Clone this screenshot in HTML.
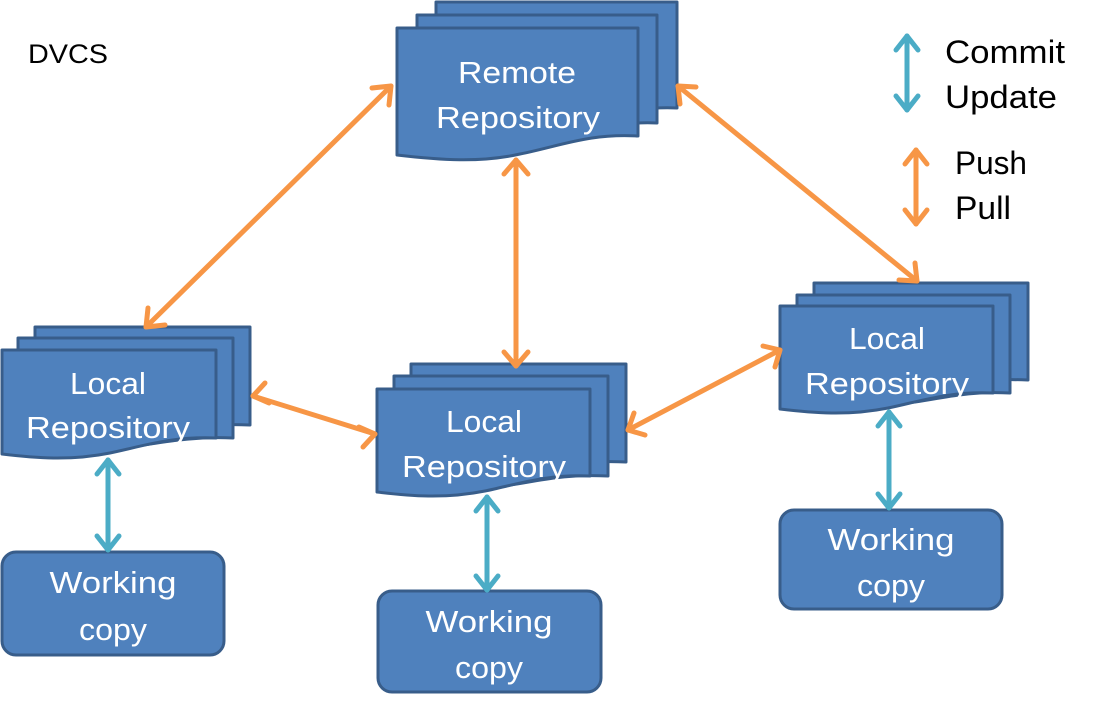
<!DOCTYPE html>
<html><head><meta charset="utf-8"><style>
html,body{margin:0;padding:0;background:#fff;}
svg{display:block;font-family:"Liberation Sans",sans-serif;}
.d{fill:#4F81BD;stroke:#385D8A;stroke-width:3;stroke-linejoin:round;}
.t{fill:#fff;font-size:31px;text-anchor:middle;}
.k{fill:#000;font-size:32px;}
.o{stroke:#F79646;stroke-width:5;fill:none;stroke-linecap:round;stroke-linejoin:round;}
.c{stroke:#4BACC6;stroke-width:5;fill:none;stroke-linecap:round;stroke-linejoin:round;}
</style></head><body>
<svg width="1118" height="710" viewBox="0 0 1118 710">
<text x="28" y="63" style="font-size:27px;fill:#000" textLength="80" lengthAdjust="spacingAndGlyphs">DVCS</text>

<!-- Remote -->
<g transform="translate(436,2)"><path class="d" d="M0,0H241V106C200,104 170,115 140,120 100,127 50,124 0,118Z"/></g>
<g transform="translate(417,15)"><path class="d" d="M0,0H240V108C200,106 170,117 140,122 100,129 50,126 0,120Z"/></g>
<path class="d" d="M397,28H638V136C590,133 560,146 520,154 480,163 440,160 397,155Z"/>
<text class="t" x="517" y="83" textLength="118" lengthAdjust="spacingAndGlyphs">Remote</text>
<text class="t" x="518" y="128" textLength="164" lengthAdjust="spacingAndGlyphs">Repository</text>

<!-- Local left -->
<path class="d" d="M35,327H250V425C200,423 180,430 150,434 100,440 70,437 35,432Z"/>
<path class="d" d="M18,338H233V438C190,436 160,443 130,447 90,453 50,450 18,445Z"/>
<path class="d" d="M2,350H216V438C170,436 140,447 110,453 70,461 35,458 2,454Z"/>
<text class="t" x="108" y="394" textLength="76" lengthAdjust="spacingAndGlyphs">Local</text>
<text class="t" x="108" y="438" textLength="164" lengthAdjust="spacingAndGlyphs">Repository</text>

<!-- Local mid -->
<path class="d" d="M411,364H626V462C580,460 560,467 530,471 480,477 450,474 411,469Z"/>
<path class="d" d="M394,376H608V476C560,474 540,481 510,485 460,491 430,488 394,483Z"/>
<path class="d" d="M377,389H590V476C545,474 515,485 485,491 445,499 410,496 377,492Z"/>
<text class="t" x="484" y="432" textLength="76" lengthAdjust="spacingAndGlyphs">Local</text>
<text class="t" x="484" y="477" textLength="164" lengthAdjust="spacingAndGlyphs">Repository</text>

<!-- Local right -->
<path class="d" d="M814,283H1028V380C980,378 960,385 930,389 880,395 850,392 814,387Z"/>
<path class="d" d="M797,295H1010V393C965,391 945,398 915,402 865,408 835,405 797,400Z"/>
<path class="d" d="M780,306H993V393C948,391 918,402 888,408 848,416 813,413 780,409Z"/>
<text class="t" x="887" y="349" textLength="76" lengthAdjust="spacingAndGlyphs">Local</text>
<text class="t" x="887" y="394" textLength="164" lengthAdjust="spacingAndGlyphs">Repository</text>

<!-- Working copies -->
<rect class="d" x="2" y="552" width="222" height="103" rx="14"/>
<text class="t" x="113" y="593" textLength="127" lengthAdjust="spacingAndGlyphs">Working</text><text class="t" x="113" y="640" textLength="68" lengthAdjust="spacingAndGlyphs">copy</text>
<rect class="d" x="378" y="591" width="223" height="101" rx="14"/>
<text class="t" x="489" y="632" textLength="127" lengthAdjust="spacingAndGlyphs">Working</text><text class="t" x="489" y="678" textLength="68" lengthAdjust="spacingAndGlyphs">copy</text>
<rect class="d" x="780" y="510" width="222" height="99" rx="14"/>
<text class="t" x="891" y="550" textLength="127" lengthAdjust="spacingAndGlyphs">Working</text><text class="t" x="891" y="596" textLength="68" lengthAdjust="spacingAndGlyphs">copy</text>

<!-- Orange arrows -->
<g class="o">
<path d="M391,86L146,327"/><path d="M372,88L391,86L389,105"/><path d="M148,308L146,327L165,325"/>
<path d="M516,160V366"/><path d="M504,174L516,160L528,174"/><path d="M504,352L516,366L528,352"/>
<path d="M678,86L917,281"/><path d="M680,104L678,86L696,87"/><path d="M899,280L917,281L915,263"/>
<path d="M253,396L375,434"/><path d="M265,383L253,396L269,403"/><path d="M359,427L375,434L363,447"/>
<path d="M628,430L780,350"/><path d="M634,413L628,430L645,435"/><path d="M763,346L780,350L775,367"/>
<path d="M916,150V224"/><path d="M905,164L916,150L927,164"/><path d="M905,210L916,224L927,210"/>
</g>
<!-- Teal arrows -->
<g class="c">
<path d="M108,460V550"/><path d="M97,474L108,460L119,474"/><path d="M97,536L108,550L119,536"/>
<path d="M487,497V590"/><path d="M476,511L487,497L498,511"/><path d="M476,576L487,590L498,576"/>
<path d="M889,412V508"/><path d="M878,426L889,412L900,426"/><path d="M878,494L889,508L900,494"/>
<path d="M907,36V110"/><path d="M896,50L907,36L918,50"/><path d="M896,96L907,110L918,96"/>
</g>

<text class="k" x="945" y="63" textLength="120" lengthAdjust="spacingAndGlyphs">Commit</text>
<text class="k" x="945" y="108" textLength="112" lengthAdjust="spacingAndGlyphs">Update</text>
<text class="k" x="955" y="174" textLength="72" lengthAdjust="spacingAndGlyphs">Push</text>
<text class="k" x="955" y="219" textLength="56" lengthAdjust="spacingAndGlyphs">Pull</text>
</svg>
</body></html>
